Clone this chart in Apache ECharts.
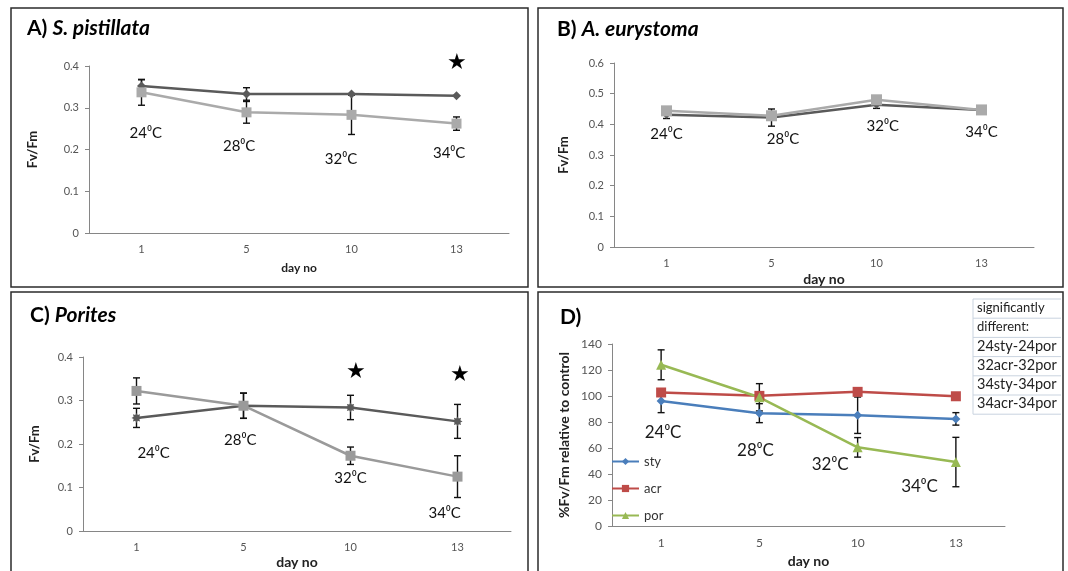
<!DOCTYPE html>
<html>
<head>
<meta charset="utf-8">
<script src="https://cdn.jsdelivr.net/npm/echarts@6/dist/echarts.min.js"></script>
<style>
  html, body { margin: 0; background: #fff; }
  #chart { width: 1068px; height: 571px; }
</style>
</head>
<body>
<div id="chart"></div>
<script>
const days = ['1', '5', '10', '13'];
const temps = ['24⁰C', '28⁰C', '32⁰C', '34⁰C'];

// A) S. pistillata
const aControl = [0.352, 0.333, 0.333, 0.329];
const aControlErr = [0.015, 0.015, 0, 0];
const aHeated = [0.337, 0.289, 0.283, 0.262];
const aHeatedErr = [0.031, 0.026, 0.047, 0.016];
const aTempPos = [[0.04, 0.240], [0.93, 0.207], [1.9, 0.177], [2.93, 0.191]];
const aStars = [[3.0, 0.41]];

// B) A. eurystoma
const bControl = [0.431, 0.422, 0.464, 0.447];
const bControlErr = [0.012, 0.028, 0.012, 0];
const bHeated = [0.444, 0.428, 0.480, 0.447];
const bHeatedErr = [0, 0, 0, 0];
const bTempPos = [[0, 0.369], [1.11, 0.352], [2.06, 0.393], [3.0, 0.373]];

// C) Porites
const cControl = [0.260, 0.288, 0.284, 0.252];
const cControlErr = [0.022, 0.029, 0.028, 0.039];
const cHeated = [0.322, 0.288, 0.173, 0.125];
const cHeatedErr = [0.030, 0.029, 0.020, 0.048];
const cTempPos = [[0.16, 0.179], [0.97, 0.209], [2.0, 0.122], [2.88, 0.041]];
const cStars = [[2.05, 0.367], [3.02, 0.36]];

// D) relative to control
const dSty = [96.1, 86.8, 85.2, 82.4];
const dStyErr = [8.9, 7.3, 14, 4.8];
const dAcr = [102.7, 100.1, 103.2, 99.8];
const dAcrErr = [2, 2, 2, 2];
const dPor = [124, 99, 60.5, 49.2];
const dPorErr = [11.5, 10.5, 7.5, 19];
const dTempPos = [[0.02, 71.8], [0.96, 57.9], [1.72, 47.6], [2.63, 30.6]];
const sigPairs = ['significantly', 'different:', '24sty-24por', '32acr-32por', '34sty-34por', '34acr-34por'];

const FONT = 'Lato, "Open Sans", sans-serif';
const chart = echarts.init(document.getElementById('chart'));

const grids = [
  { left: 89, top: 66, width: 420, height: 167 },
  { left: 614, top: 63, width: 420, height: 184 },
  { left: 83, top: 357, width: 428, height: 174 },
  { left: 612, top: 344, width: 393, height: 182 }
];

function xAxis(idx, nameGap, nameSize, labelSize) {
  return {
    type: 'category', gridIndex: idx, data: days,
    name: 'day no', nameLocation: 'middle', nameGap: nameGap,
    nameTextStyle: { fontSize: nameSize, fontWeight: 'bold', color: '#222', fontFamily: FONT },
    axisLine: { lineStyle: { color: '#868686' } },
    axisTick: { length: 5, lineStyle: { color: '#868686' } },
    axisLabel: { fontSize: labelSize, color: '#555', margin: 11, fontFamily: FONT }
  };
}

// hidden axis on the same grid: category i sits at value i, so notes can sit between days
function noteAxis(idx) {
  return { type: 'value', gridIndex: idx, min: -0.5, max: 3.5, show: false };
}

function yAxis(idx, max, interval, name, nameGap, nameSize, labelSize) {
  return {
    type: 'value', gridIndex: idx, min: 0, max: max, interval: interval,
    name: name, nameLocation: 'middle', nameGap: nameGap,
    nameTextStyle: { fontSize: nameSize, fontWeight: 'bold', color: '#222', fontFamily: FONT },
    axisLine: { show: true, onZero: false, lineStyle: { color: '#868686' } },
    axisTick: { show: true, length: 4, lineStyle: { color: '#868686' } },
    splitLine: { show: false },
    axisLabel: { fontSize: labelSize, color: '#555', margin: 10, fontFamily: FONT }
  };
}

function line(name, idx, values, color, symbol, size) {
  return {
    name: name, type: 'line', xAxisIndex: idx, yAxisIndex: idx, data: values,
    symbol: symbol, symbolSize: size, color: color,
    lineStyle: { width: 2.5, color: color }, itemStyle: { color: color },
    z: 3, animation: false
  };
}

function errorBars(idx, values, errs) {
  return {
    type: 'custom', xAxisIndex: idx, yAxisIndex: idx, z: 2, silent: true,
    data: values.map((v, i) => [i, v - errs[i], v + errs[i]]),
    encode: { x: 0, y: [1, 2] },
    renderItem: function (params, api) {
      if (api.value(2) - api.value(1) <= 0) return;
      const lo = api.coord([api.value(0), api.value(1)]);
      const hi = api.coord([api.value(0), api.value(2)]);
      const w = 3.5;
      const st = { stroke: '#111', lineWidth: 1.4 };
      return {
        type: 'group', children: [
          { type: 'line', shape: { x1: lo[0], y1: lo[1], x2: hi[0], y2: hi[1] }, style: st },
          { type: 'line', shape: { x1: lo[0] - w, y1: lo[1], x2: lo[0] + w, y2: lo[1] }, style: st },
          { type: 'line', shape: { x1: hi[0] - w, y1: hi[1], x2: hi[0] + w, y2: hi[1] }, style: st }
        ]
      };
    }
  };
}

// text annotations placed in data space of a panel
function texts(idx, points, labels, fontSize, color) {
  return {
    type: 'scatter', xAxisIndex: idx + 4, yAxisIndex: idx, clip: false, silent: true, z: 6,
    symbolSize: 1, itemStyle: { color: 'transparent', opacity: 1 },
    data: points.map((p, i) => ({ value: p, label: { formatter: labels[i] } })),
    label: {
      show: true, position: 'inside', fontSize: fontSize, color: color,
      textBorderWidth: 0, fontFamily: FONT
    }
  };
}

const starPath = 'path://M0,-10L2.4,-5.8L7.1,-7.1L5.8,-2.4L10,0L5.8,2.4L7.1,7.1L2.4,5.8L0,10L-2.4,5.8L-7.1,7.1L-5.8,2.4L-10,0L-5.8,-2.4L-7.1,-7.1L-2.4,-5.8Z';

function titleRich(x, y, a, b) {
  return {
    left: x, top: y, padding: 0, text: b ? '{a|' + a + ' }{b|' + b + '}' : '{a|' + a + '}',
    textStyle: {
      rich: {
        a: { fontSize: 21, fontWeight: 'bold', color: '#000', fontFamily: FONT },
        b: { fontSize: 21, fontWeight: 'bold', fontStyle: 'italic', color: '#000', fontFamily: FONT }
      }
    }
  };
}

const panels = [
  { x: 11, y: 8, w: 517, h: 279 },
  { x: 538, y: 8, w: 525, h: 279 },
  { x: 11, y: 292, w: 517, h: 285 },
  { x: 538, y: 292, w: 525, h: 285 }
];

const graphic = panels.map(p => ({
  type: 'rect', shape: { x: p.x, y: p.y, width: p.w, height: p.h },
  style: { fill: 'none', stroke: '#2b2b2b', lineWidth: 1.5 }, silent: true
}));
const rowH = 19.2, boxTop = 299, boxLeft = 973, boxRight = 1061;
sigPairs.forEach((s, i) => {
  graphic.push({
    type: 'text', left: boxLeft + 4, top: boxTop + i * rowH + (i < 2 ? 2 : 1),
    style: { text: s, fontSize: i < 2 ? 13 : 14.5, fill: '#222', fontFamily: FONT }
  });
  graphic.push({
    type: 'line', shape: { x1: boxLeft, y1: boxTop + (i + 1) * rowH, x2: boxRight, y2: boxTop + (i + 1) * rowH },
    style: { stroke: '#c9d3df', lineWidth: 1 }
  });
});
graphic.push({ type: 'line', shape: { x1: boxLeft, y1: boxTop, x2: boxRight, y2: boxTop }, style: { stroke: '#c9d3df', lineWidth: 1 } });
graphic.push({ type: 'line', shape: { x1: boxLeft, y1: boxTop, x2: boxLeft, y2: boxTop + 6 * rowH }, style: { stroke: '#c9d3df', lineWidth: 1 } });

const option = {
  animation: false,
  backgroundColor: '#fff',
  title: [
    titleRich(27, 18, 'A)', 'S. pistillata'),
    titleRich(557, 19, 'B)', 'A. eurystoma'),
    titleRich(30, 305, 'C)', 'Porites'),
    titleRich(560, 307, 'D)')
  ],
  legend: {
    data: ['sty', 'acr', 'por'], orient: 'vertical', left: 611, top: 455,
    itemWidth: 27, itemHeight: 9, itemGap: 14, padding: 0,
    textStyle: { fontSize: 13, color: '#333', fontFamily: FONT }
  },
  grid: grids,
  xAxis: [
    xAxis(0, 29, 12, 11), xAxis(1, 25, 14, 11), xAxis(2, 24, 14, 11), xAxis(3, 28, 14, 12),
    noteAxis(0), noteAxis(1), noteAxis(2), noteAxis(3)
  ],
  yAxis: [
    yAxis(0, 0.4, 0.1, 'Fv/Fm', 50, 13, 11),
    yAxis(1, 0.6, 0.1, 'Fv/Fm', 44, 13, 11),
    yAxis(2, 0.4, 0.1, 'Fv/Fm', 42, 13, 11),
    yAxis(3, 140, 20, '%Fv/Fm relative to control', 41, 14, 12)
  ],
  graphic: graphic,
  series: [
    errorBars(0, aControl, aControlErr),
    errorBars(0, aHeated, aHeatedErr),
    line('A control', 0, aControl, '#5a5a5a', 'diamond', 9),
    line('A heated', 0, aHeated, '#aaaaaa', 'rect', 10),
    texts(0, aTempPos, temps, 15, '#111'),
    texts(0, aStars, ['★'], 22, '#000'),

    errorBars(1, bControl, bControlErr),
    errorBars(1, bHeated, bHeatedErr),
    line('B control', 1, bControl, '#5a5a5a', 'diamond', 8),
    line('B heated', 1, bHeated, '#aaaaaa', 'rect', 11),
    texts(1, bTempPos, temps, 15, '#111'),

    errorBars(2, cControl, cControlErr),
    errorBars(2, cHeated, cHeatedErr),
    line('C control', 2, cControl, '#5a5a5a', starPath, 10),
    line('C heated', 2, cHeated, '#9a9a9a', 'rect', 10),
    texts(2, cTempPos, temps, 15, '#111'),
    texts(2, cStars, ['★', '★'], 22, '#000'),

    errorBars(3, dSty, dStyErr),
    errorBars(3, dAcr, dAcrErr),
    errorBars(3, dPor, dPorErr),
    line('sty', 3, dSty, '#4a7ebb', 'diamond', 9),
    line('acr', 3, dAcr, '#be4b48', 'rect', 10),
    line('por', 3, dPor, '#98b954', 'triangle', 10),
    texts(3, dTempPos, temps, 17, '#1a1a1a')
  ]
};

chart.setOption(option);
</script>
</body>
</html>
